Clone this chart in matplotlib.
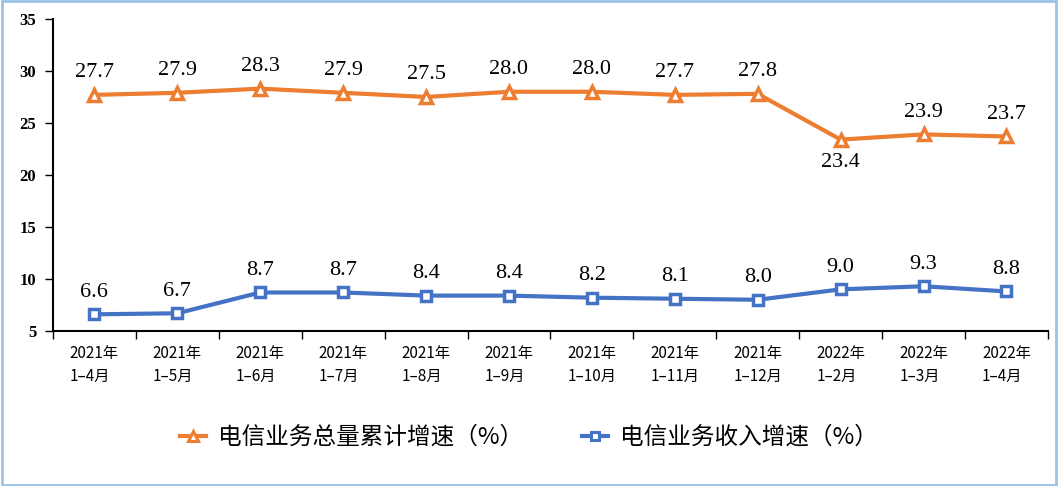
import matplotlib
matplotlib.use("Agg")
import matplotlib.pyplot as plt
from matplotlib.patches import Rectangle
from matplotlib.lines import Line2D

categories = ["2021年\n1–4月", "2021年\n1–5月", "2021年\n1–6月", "2021年\n1–7月",
              "2021年\n1–8月", "2021年\n1–9月", "2021年\n1–10月", "2021年\n1–11月",
              "2021年\n1–12月", "2022年\n1–2月", "2022年\n1–3月", "2022年\n1–4月"]
volume = [27.7, 27.9, 28.3, 27.9, 27.5, 28.0, 28.0, 27.7, 27.8, 23.4, 23.9, 23.7]
revenue = [6.6, 6.7, 8.7, 8.7, 8.4, 8.4, 8.2, 8.1, 8.0, 9.0, 9.3, 8.8]
name_volume = "电信业务总量累计增速（%）"
name_revenue = "电信业务收入增速（%）"
yticks = [5, 10, 15, 20, 25, 30, 35]

orange = "#ED7D31"
blue = "#4472C4"
cjk = ["Noto Sans CJK SC", "DejaVu Sans"]
serif = ["Liberation Serif", "DejaVu Serif"]

fig = plt.figure(figsize=(10.58, 4.86), dpi=100)
fig.patches.append(Rectangle((0.002, 0.003), 0.996, 0.994, transform=fig.transFigure,
                             fill=False, edgecolor="#9DC3E6", linewidth=2))
ax = fig.add_axes([0.050, 0.319, 0.9405, 0.642])

x = list(range(len(categories)))
ax.plot(x, volume, color=orange, lw=3, marker="^", ms=9, mfc="white",
        mec=orange, mew=2.5, zorder=3)
ax.plot(x, revenue, color=blue, lw=3, marker="s", ms=7, mfc="white",
        mec=blue, mew=2.5, zorder=3)

for i, v in enumerate(volume):
    if i == 9:
        ax.annotate(f"{v:.1f}", (i, v), xytext=(0, -10), textcoords="offset points",
                    ha="center", va="top", fontsize=16, family=serif)
    else:
        ax.annotate(f"{v:.1f}", (i, v), xytext=(0, 9), textcoords="offset points",
                    ha="center", va="bottom", fontsize=16, family=serif)
for i, v in enumerate(revenue):
    ax.annotate(f"{v:.1f}", (i, v), xytext=(0, 9), textcoords="offset points",
                ha="center", va="bottom", fontsize=16, family=serif)

ax.set_xlim(-0.5, len(categories) - 0.5)
ax.set_ylim(5, 35)
ax.set_yticks(yticks)
ax.set_yticklabels([str(t) for t in yticks], fontsize=12, fontweight="bold", family=serif)
ax.set_xticks([i - 0.5 for i in range(len(categories) + 1)])
ax.set_xticklabels([])
ax.set_xticks(x, minor=True)
ax.set_xticklabels(categories, minor=True, fontsize=11, family=cjk, linespacing=1.5,
                   multialignment="left")
ax.tick_params(axis="x", which="minor", length=0, pad=10)
ax.tick_params(axis="x", which="major", length=6, width=1, direction="out")
ax.tick_params(axis="y", length=6, width=1, direction="out", pad=6)
for s in ["top", "right"]:
    ax.spines[s].set_visible(False)
ax.spines["left"].set_linewidth(1.5)
ax.spines["bottom"].set_linewidth(1.5)

handles = [Line2D([], [], color=orange, lw=3, marker="^", ms=7, mfc="white", mec=orange, mew=2.2),
           Line2D([], [], color=blue, lw=3, marker="s", ms=5.5, mfc="white", mec=blue, mew=2.2)]
fig.legend(handles, [name_volume, name_revenue], loc="center", bbox_to_anchor=(0.5, 0.1),
           ncol=2, frameon=False, prop={"family": cjk, "size": 17}, handlelength=1.1,
           handletextpad=0.5, columnspacing=2.5)

fig.savefig("out.png", dpi=100)
